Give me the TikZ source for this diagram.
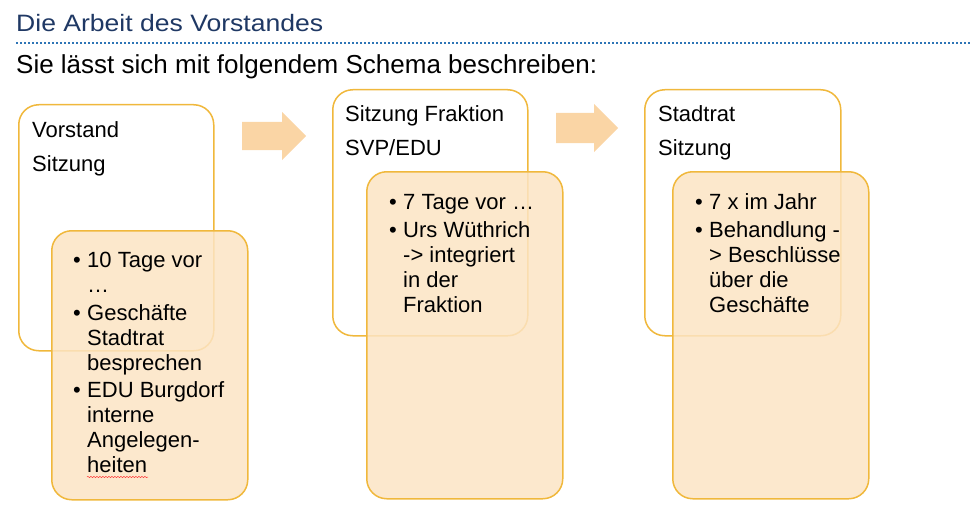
\documentclass[tikz,border=0pt]{standalone}
\usepackage{fontspec}
\setmainfont{Liberation Sans}
\usetikzlibrary{decorations.pathmorphing}
\definecolor{gold}{RGB}{240,184,60}
\definecolor{peach}{RGB}{252,228,196}
\definecolor{pfeil}{RGB}{250,213,165}
\definecolor{titel}{RGB}{31,56,100}
\definecolor{linie}{RGB}{46,117,182}
\newcommand{\itm}{\makebox[14pt][l]{\textbullet}}
\newcommand{\ind}{\hspace*{14pt}}
\begin{document}
\begin{tikzpicture}[x=1pt,y=-1pt,
    hauptbox/.style={draw=gold,line width=1.5pt,rounded corners=20pt,fill=white,anchor=north west,minimum width=195pt,minimum height=246pt},
    notizbox/.style={draw=gold,line width=1.5pt,rounded corners=20pt,fill=peach,fill opacity=0.85,draw opacity=1,anchor=north west,minimum width=196pt},
    kopf/.style={anchor=base west,inner sep=0pt,align=left,font=\fontsize{22}{33.5}\selectfont},
    punkte/.style={anchor=base west,inner sep=0pt,align=left,font=\fontsize{22}{25}\selectfont}]
    \useasboundingbox (0,0) rectangle (971,508);

    % Titel
    \node[anchor=base west,inner sep=0pt,text=titel,font=\fontsize{23.7}{28}\selectfont] (titel) at (16,32) {\scalebox{1.12}[1]{Die Arbeit des Vorstandes}};
    \draw[linie,line width=1.6pt,dash pattern=on 1.6pt off 2.4pt] (16,43) -- (971,43);
    \node[anchor=base west,inner sep=0pt,font=\fontsize{26}{30}\selectfont] (untertitel) at (16,74) {Sie lässt sich mit folgendem Schema beschreiben:};

    % Vorstand (Anker = letzte Zeile)
    \node[hauptbox] (vorstand) at (18,104) {};
    \node[kopf] (kopf1) at (32,171) {Vorstand\\Sitzung};
    \node[notizbox,minimum height=269pt] (notiz1) at (51,230) {};
    \node[punkte] (punkte1) at (73,472) {\itm 10 Tage vor\\ \ind …\\[3pt]
        \itm Geschäfte\\ \ind Stadtrat\\ \ind besprechen\\[2pt]
        \itm EDU Burgdorf\\ \ind interne\\ \ind Angelegen-\\ \ind heiten};
    \draw[red!80,line width=0.5pt,decorate,decoration={snake,amplitude=0.6pt,segment length=3pt}] (87,477) -- (148,477);

    % Fraktion
    \node[hauptbox] (fraktion) at (332,89) {};
    \node[kopf] (kopf2) at (345,155) {Sitzung Fraktion\\SVP/EDU};
    \node[notizbox,minimum height=327pt] (notiz2) at (366,171) {};
    \node[punkte] (punkte2) at (389,312) {\itm 7 Tage vor …\\[3pt]
        \itm Urs Wüthrich\\ \ind -> integriert\\ \ind in der\\ \ind Fraktion};

    % Stadtrat
    \node[hauptbox,minimum width=196pt] (stadtrat) at (644,89) {};
    \node[kopf] (kopf3) at (658,155) {Stadtrat\\Sitzung};
    \node[notizbox,minimum height=327pt] (notiz3) at (672,171) {};
    \node[punkte] (punkte3) at (695,312) {\itm 7 x im Jahr\\[3pt]
        \itm Behandlung -\\ \ind > Beschlüsse\\ \ind über die\\ \ind Geschäfte};

    % Pfeile
    \fill[pfeil] (242,122) -- (282,122) -- (282,112) -- (306,136) -- (282,160) -- (282,150) -- (242,150) -- cycle;
    \fill[pfeil] (556,113) -- (594,113) -- (594,104) -- (618,128) -- (594,152) -- (594,143) -- (556,143) -- cycle;
\end{tikzpicture}
\end{document}
